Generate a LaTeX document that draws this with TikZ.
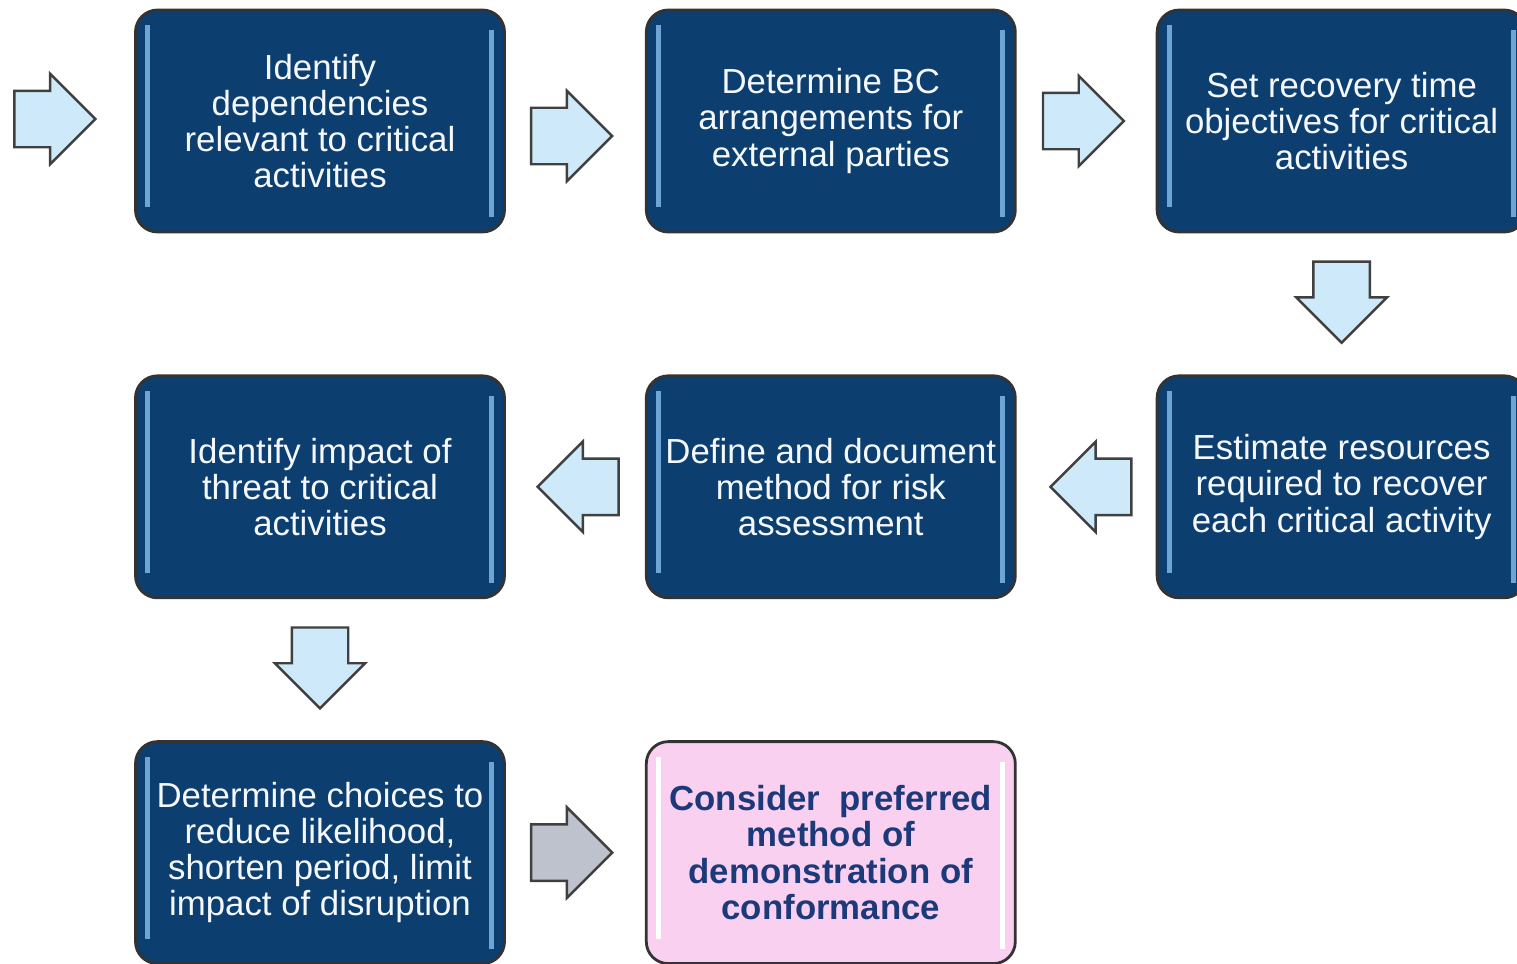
\documentclass[tikz,border=0pt]{standalone}
\usepackage{fontspec}
\setmainfont{Liberation Sans}
\usetikzlibrary{arrows, calc, positioning, shapes.arrows}

\definecolor{boxblue}{RGB}{12,62,112}
\definecolor{edgeblue}{RGB}{110,165,215}
\definecolor{arrowblue}{RGB}{205,233,250}
\definecolor{arrowgrey}{RGB}{190,194,204}
\definecolor{boxpink}{RGB}{250,208,240}
\definecolor{textblue}{RGB}{28,58,122}

\begin{document}
\begin{tikzpicture}[node distance=1.4cm,
	task/.style={rectangle, rounded corners=0.22cm, draw=black!80, line width=0.8pt, fill=boxblue,
		text=white!92!edgeblue, minimum width=3.69cm, minimum height=2.22cm, inner sep=0pt, align=center,
		font=\fontsize{9.9}{10.3}\selectfont,
		path picture={
			\draw[edgeblue, line width=1.4pt] ([xshift=0.12cm, yshift=0.25cm]path picture bounding box.south west)
				-- ([xshift=0.12cm, yshift=-0.15cm]path picture bounding box.north west);
			\draw[edgeblue, line width=1.4pt] ([xshift=-0.13cm, yshift=0.15cm]path picture bounding box.south east)
				-- ([xshift=-0.13cm, yshift=-0.2cm]path picture bounding box.north east);}},
	goal/.style={task, fill=boxpink, text=textblue, font=\fontsize{9.9}{10.3}\selectfont\bfseries,
		path picture={
			\draw[white, line width=1.4pt] ([xshift=0.12cm, yshift=0.25cm]path picture bounding box.south west)
				-- ([xshift=0.12cm, yshift=-0.15cm]path picture bounding box.north west);
			\draw[white, line width=1.4pt] ([xshift=-0.13cm, yshift=0.15cm]path picture bounding box.south east)
				-- ([xshift=-0.13cm, yshift=-0.2cm]path picture bounding box.north east);}},
	flow/.style={single arrow, draw=black!75, line width=0.7pt, fill=arrowblue, inner xsep=0pt, inner ysep=0.27cm,
		minimum height=0.81cm, single arrow head extend=0.17cm, anchor=tip}]

	\useasboundingbox (0,0) rectangle (15.17,-9.64);

	% first row
	\node[task] (b1) at (3.20,-1.21) {Identify\\dependencies\\relevant to critical\\activities};
	\node[task] (b2) [right=1.39cm of b1] {Determine BC\\arrangements for\\external parties};
	\node[task] (b3) [right=1.39cm of b2] {Set recovery time\\objectives for critical\\activities};

	% second row
	\node[task] (b6) [below=1.41cm of b3] {Estimate resources\\required to recover\\each critical activity};
	\node[task] (b5) [left=1.39cm of b6] {Define and document\\method for risk\\assessment};
	\node[task] (b4) [left=1.39cm of b5] {Identify impact of\\threat to critical\\activities};

	% third row
	\node[task] (b7) [below=1.41cm of b4] {Determine choices to\\reduce likelihood,\\shorten period, limit\\impact of disruption};
	\node[goal] (b8) [right=1.39cm of b7] {Consider~ preferred\\method of\\demonstration of\\conformance};

	% arrows (placed by their tips)
	\node[flow] (a0) at ($(b1.west)+(-0.37,0.02)$) {};
	\node[flow] (a1) at ($(b2.west)+(-0.31,-0.15)$) {};
	\node[flow] (a2) at ($(b3.west)+(-0.30,0)$) {};
	\node[flow, rotate=-90] (a3) at ($(b6.north)+(0,0.30)$) {};
	\node[flow, rotate=180] (a4) at ($(b5.east)+(0.32,0)$) {};
	\node[flow, rotate=180] (a5) at ($(b4.east)+(0.30,0)$) {};
	\node[flow, rotate=-90] (a6) at ($(b7.north)+(0,0.30)$) {};
	\node[flow, fill=arrowgrey] (a7) at ($(b8.west)+(-0.31,0)$) {};

\end{tikzpicture}
\end{document}
